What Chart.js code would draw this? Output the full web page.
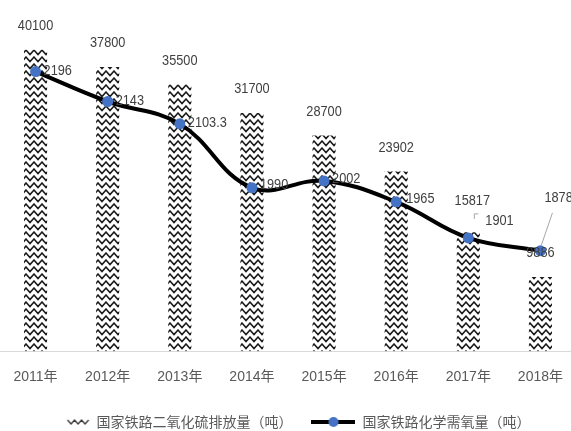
<!DOCTYPE html>
<html>
<head>
<meta charset="utf-8">
<script src="https://cdn.jsdelivr.net/npm/chart.js@4.4.1/dist/chart.umd.min.js"></script>
<style>
  html, body { margin: 0; padding: 0; background: #fff; overflow: hidden; }
  #myChart { position: absolute; left: -6px; top: 0; }
</style>
</head>
<body>
<canvas id="myChart" width="588" height="431"></canvas>
<script>
const years = ['2011年', '2012年', '2013年', '2014年', '2015年', '2016年', '2017年', '2018年'];
const so2 = [40100, 37800, 35500, 31700, 28700, 23902, 15817, 9886];
const cod = [2196, 2143, 2103.3, 1990, 2002, 1965, 1901, 1878];
const so2Label = '国家铁路二氧化硫排放量（吨）';
const codLabel = '国家铁路化学需氧量（吨）';

const labelFont = '15px "Liberation Sans", sans-serif';

// zigzag fill for the bars
function wavePattern(ctx) {
    const c = document.createElement('canvas');
    c.width = 8; c.height = 7;
    const g = c.getContext('2d');
    g.fillStyle = '#fff';
    g.fillRect(0, 0, 8, 7);
    g.strokeStyle = '#1a1a1a';
    g.lineWidth = 1.5;
    g.beginPath();
    g.moveTo(-2, 3.25);
    g.lineTo(0, 1);
    g.lineTo(4, 5.5);
    g.lineTo(8, 1);
    g.lineTo(10, 3.25);
    g.stroke();
    return ctx.createPattern(c, 'repeat');
}

function waveIcon() {
    const c = document.createElement('canvas');
    c.width = 44; c.height = 10;
    const g = c.getContext('2d');
    g.strokeStyle = '#333';
    g.lineWidth = 1.2;
    g.beginPath();
    g.moveTo(22, 3);
    for (let i = 0; i < 3; i++) {
        g.lineTo(22 + i * 7 + 3.5, 7);
        g.lineTo(22 + i * 7 + 7, 3);
    }
    g.stroke();
    return c;
}

function lineIcon() {
    const c = document.createElement('canvas');
    c.width = 44; c.height = 12;
    const g = c.getContext('2d');
    g.strokeStyle = '#000';
    g.lineWidth = 4;
    g.beginPath();
    g.moveTo(0, 6);
    g.lineTo(44, 6);
    g.stroke();
    g.fillStyle = '#4472C4';
    g.beginPath();
    g.arc(22, 6, 5, 0, Math.PI * 2);
    g.fill();
    return c;
}

// narrow text like the original's condensed face
function narrowText(ctx, text, x, y, align) {
    const w = ctx.measureText(text).width * 0.85;
    const left = align === 'center' ? x - w / 2 : x;
    ctx.save();
    ctx.translate(left, y);
    ctx.scale(0.85, 1);
    ctx.textAlign = 'left';
    ctx.fillText(text, 0, 0);
    ctx.restore();
}

// value labels, with a couple of hand-moved ones like in the original
const valueLabels = {
    id: 'valueLabels',
    afterDatasetsDraw(chart) {
        const ctx = chart.ctx;
        ctx.save();
        ctx.font = labelFont;
        ctx.fillStyle = '#404040';
        ctx.textBaseline = 'middle';

        const bars = chart.getDatasetMeta(1).data;
        bars.forEach((b, i) => {
            let x = b.x, y = b.y - 24;
            if (i === 6) { x = b.x + 4; y = b.y - 31; }
            if (i === 7) { x = b.x; y = chart.getDatasetMeta(0).data[7].y + 2; }
            narrowText(ctx, String(so2[i]), x, y, 'center');
        });

        const pts = chart.getDatasetMeta(0).data;
        pts.forEach((p, i) => {
            let x = p.x + 8, y = p.y - 1;
            if (i === 3) { y = p.y - 3; }
            if (i === 4) { y = p.y - 2; }
            if (i === 5) { x = p.x + 10; y = p.y - 3; }
            if (i === 6) { x = p.x + 17; y = p.y - 17; }
            if (i === 7) { x = p.x + 4; y = p.y - 53; }
            narrowText(ctx, String(cod[i]), x, y, 'left');
        });

        // leader lines
        ctx.strokeStyle = '#a6a6a6';
        ctx.lineWidth = 1;
        ctx.beginPath();
        ctx.moveTo(pts[7].x + 12, pts[7].y - 38);
        ctx.lineTo(pts[7].x + 1, pts[7].y - 6);
        ctx.moveTo(pts[6].x + 10, pts[6].y - 24);
        ctx.lineTo(pts[6].x + 6, pts[6].y - 24);
        ctx.lineTo(pts[6].x + 6, pts[6].y - 19);
        ctx.stroke();
        ctx.restore();
    }
};

const canvas = document.getElementById('myChart');
const ctx = canvas.getContext('2d');
const pattern = wavePattern(ctx);
const icons = [waveIcon(), lineIcon()];

const myChart = new Chart(ctx, {
    type: 'bar',
    data: {
        labels: years,
        datasets: [
            {
                type: 'line',
                label: codLabel,
                data: cod,
                yAxisID: 'y1',
                borderColor: '#000',
                borderWidth: 4,
                tension: 0.4,
                pointRadius: 5.5,
                pointBackgroundColor: '#4472C4',
                pointBorderColor: '#4472C4',
                pointBorderWidth: 0,
                order: 0
            },
            {
                label: so2Label,
                data: so2,
                yAxisID: 'y',
                backgroundColor: pattern,
                borderWidth: 0,
                categoryPercentage: 1,
                barPercentage: 0.32,
                order: 1
            }
        ]
    },
    options: {
        responsive: false,
        animation: false,
        layout: { padding: { top: 13, left: 0, right: 0, bottom: -8 } },
        scales: {
            x: {
                grid: { display: false },
                border: { color: '#d9d9d9', width: 1 },
                ticks: {
                    color: '#595959',
                    font: { family: '"Liberation Sans", "Noto Sans CJK SC", sans-serif', size: 14 },
                    padding: 10,
                    maxRotation: 0
                }
            },
            y: { display: false, min: 0, max: 45000 },
            y1: { display: false, min: 1700, max: 2300 }
        },
        plugins: {
            legend: {
                position: 'bottom',
                labels: {
                    usePointStyle: true,
                    pointStyleWidth: 44,
                    padding: 19,
                    color: '#595959',
                    font: { family: '"Noto Sans CJK SC", sans-serif', size: 14 },
                    generateLabels(chart) {
                        return [1, 0].map((di, k) => ({
                            text: chart.data.datasets[di].label,
                            pointStyle: icons[k],
                            fillStyle: '#fff',
                            strokeStyle: '#fff',
                            lineWidth: 0,
                            fontColor: '#595959',
                            datasetIndex: di
                        }));
                    }
                }
            },
            tooltip: { enabled: false }
        }
    },
    plugins: [valueLabels]
});
</script>
</body>
</html>
